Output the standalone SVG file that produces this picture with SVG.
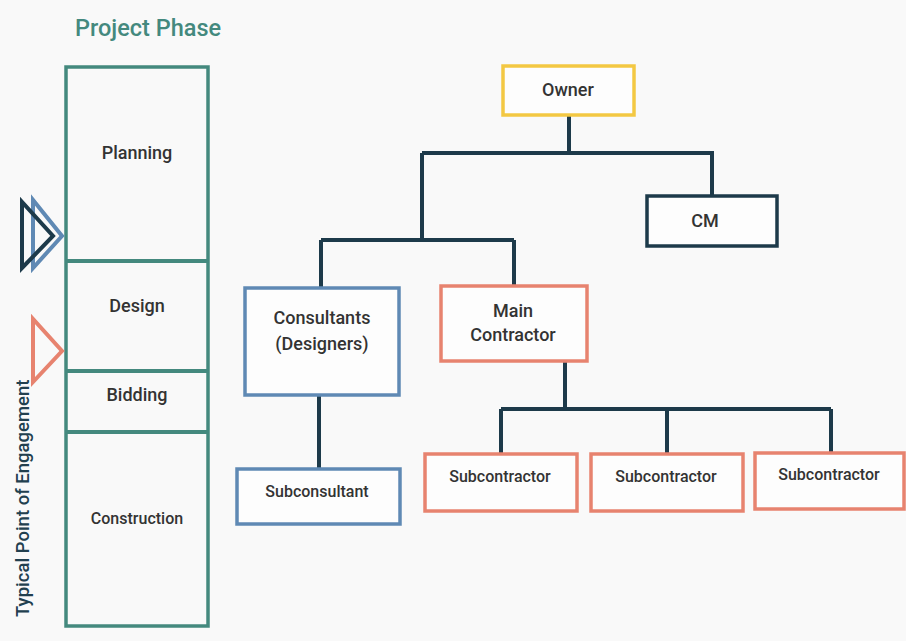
<svg xmlns="http://www.w3.org/2000/svg" width="906" height="641" viewBox="0 0 906 641">
<style>
.bg{fill:#f9f9f9}
.ph{fill:none;stroke:#44897e;stroke-width:3.5}
.div{stroke:#44897e;stroke-width:4}
.t{font-family:Roboto,"Liberation Sans",sans-serif;fill:#333;text-anchor:middle;font-weight:500}
.lg{font-size:18px}
.sm{font-size:16px}
.box{fill:#fdfdfd;stroke-width:3.5}
.yel{stroke:#f3c843}
.dk{stroke:#1d3a4a}
.bl{stroke:#5f89b4}
.sa{stroke:#e7836f}
.ln{fill:none;stroke:#1d3a4a;stroke-width:4}
.tri{fill:none;stroke-width:4;stroke-linejoin:miter}
</style>
<rect class="bg" x="0" y="0" width="906" height="641"/>
<text x="148" y="36" font-family="Roboto,'Liberation Sans',sans-serif" font-size="23.5" font-weight="500" fill="#44897e" text-anchor="middle">Project Phase</text>
<g id="phases">
<rect class="ph" x="66" y="67" width="142" height="559"/>
<line class="div" x1="66" y1="261" x2="208" y2="261" stroke-width="5"/>
<line class="div" x1="66" y1="371" x2="208" y2="371"/>
<line class="div" x1="66" y1="432" x2="208" y2="432"/>
<text class="t lg" x="137" y="159">Planning</text>
<text class="t lg" x="137" y="312">Design</text>
<text class="t lg" x="137" y="401">Bidding</text>
<text class="t sm" x="137" y="524">Construction</text>
</g>
<g id="markers">
<polygon class="tri" points="33,200 33,268 62,236" stroke="#5f89b4"/>
<polygon class="tri" points="22,202 22,268 53,236" stroke="#1d3a4a"/>
<polygon class="tri" points="33,319 33,382 62,351" stroke="#e7836f"/>
<text transform="translate(29,617) rotate(-90)" font-family="Roboto,'Liberation Sans',sans-serif" font-size="18.5" font-weight="500" fill="#22404f">Typical Point of Engagement</text>
</g>
<g id="connectors">
<path class="ln" d="M569,115 V153 M422,153 H712 V196 M422,153 V240 M321,240 H514 M321,240 V288 M514,240 V287"/>
<path class="ln" d="M319,395 V469"/>
<path class="ln" d="M565,361 V409 M501,409 H831 M501,409 V454 M667,409 V454 M831,409 V453"/>
</g>
<g id="owner"><rect class="box yel" x="503" y="66" width="131" height="49"/><text class="t lg" x="568" y="96">Owner</text></g>
<g id="cm"><rect class="box dk" x="647" y="196" width="130" height="50"/><text class="t lg" x="705" y="227">CM</text></g>
<g id="consultants"><rect class="box bl" x="245" y="288" width="154" height="107"/><text class="t lg" x="322" y="324">Consultants</text><text class="t lg" x="322" y="350">(Designers)</text></g>
<g id="main"><rect class="box sa" x="441" y="286" width="146" height="75"/><text class="t lg" x="513" y="317">Main</text><text class="t lg" x="513" y="341">Contractor</text></g>
<g id="subconsultant"><rect class="box bl" x="237" y="469" width="163" height="55"/><text class="t sm" x="317" y="497">Subconsultant</text></g>
<g id="sub1"><rect class="box sa" x="425" y="454" width="152" height="57"/><text class="t sm" x="500" y="482">Subcontractor</text></g>
<g id="sub2"><rect class="box sa" x="591" y="454" width="152" height="57"/><text class="t sm" x="666" y="482">Subcontractor</text></g>
<g id="sub3"><rect class="box sa" x="755" y="453" width="149" height="56"/><text class="t sm" x="829" y="480">Subcontractor</text></g>
</svg>
